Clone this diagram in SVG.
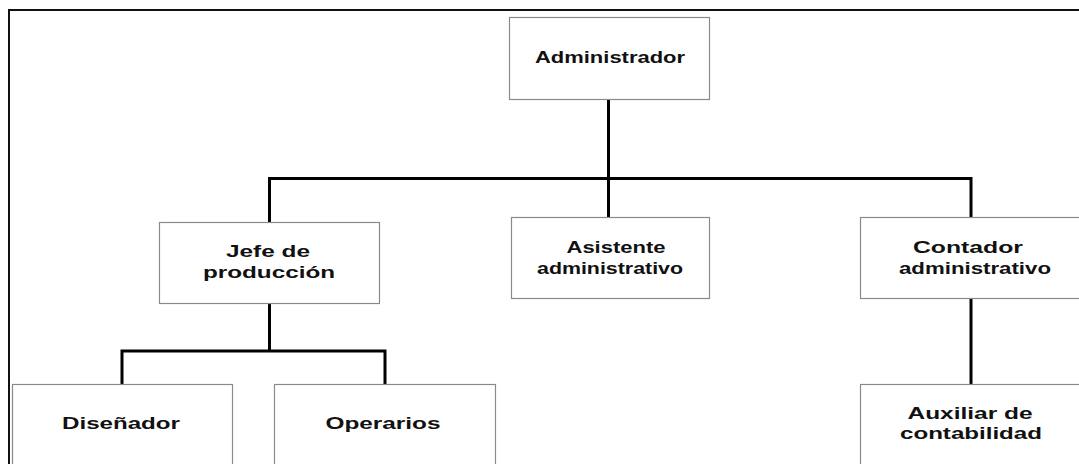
<svg xmlns="http://www.w3.org/2000/svg" width="1079" height="464" viewBox="0 0 1079 464">
<style>
.box{fill:#fff;stroke:#8a8a8a;stroke-width:1.2}
.t{font-family:"Liberation Sans",Arial,sans-serif;font-weight:bold;font-size:16px;fill:#111;text-anchor:middle}
.c{fill:none;stroke:#000;stroke-width:3}
</style>
<rect x="0" y="0" width="1079" height="464" fill="#fff"/>
<path d="M9,464 V10 H1079" fill="none" stroke="#111" stroke-width="2"/>
<g id="connectors">
<path class="c" d="M608.5,99 V217"/>
<path class="c" d="M269.5,222 V178.5 H971 V217"/>
<path class="c" d="M269.5,303 V351 M122,384 V351 H385 V384"/>
<path class="c" d="M971,298 V384"/>
</g>
<g id="administrador">
<rect class="box" x="509.5" y="17.5" width="200" height="82"/>
<text class="t" x="610" y="63" textLength="150" lengthAdjust="spacingAndGlyphs">Administrador</text>
</g>
<g id="jefe">
<rect class="box" x="159.5" y="222.5" width="220" height="81"/>
<text class="t" x="268" y="257" textLength="84" lengthAdjust="spacingAndGlyphs">Jefe de</text>
<text class="t" x="269" y="278" textLength="132" lengthAdjust="spacingAndGlyphs">producción</text>
</g>
<g id="asistente">
<rect class="box" x="511.5" y="217.5" width="198" height="81"/>
<text class="t" x="616" y="253" textLength="99" lengthAdjust="spacingAndGlyphs">Asistente</text>
<text class="t" x="610" y="274" textLength="146" lengthAdjust="spacingAndGlyphs">administrativo</text>
</g>
<g id="contador">
<rect class="box" x="860.5" y="217.5" width="230" height="81"/>
<text class="t" x="968" y="253" textLength="110" lengthAdjust="spacingAndGlyphs">Contador</text>
<text class="t" x="975" y="274" textLength="152" lengthAdjust="spacingAndGlyphs">administrativo</text>
</g>
<g id="disenador">
<rect class="box" x="12.5" y="384.5" width="220" height="90"/>
<text class="t" x="121" y="429" textLength="118" lengthAdjust="spacingAndGlyphs">Diseñador</text>
</g>
<g id="operarios">
<rect class="box" x="274.5" y="384.5" width="221" height="90"/>
<text class="t" x="383" y="429" textLength="115" lengthAdjust="spacingAndGlyphs">Operarios</text>
</g>
<g id="auxiliar">
<rect class="box" x="860.5" y="384.5" width="230" height="90"/>
<text class="t" x="970" y="419" textLength="125" lengthAdjust="spacingAndGlyphs">Auxiliar de</text>
<text class="t" x="971" y="439" textLength="142" lengthAdjust="spacingAndGlyphs">contabilidad</text>
</g>
</svg>
